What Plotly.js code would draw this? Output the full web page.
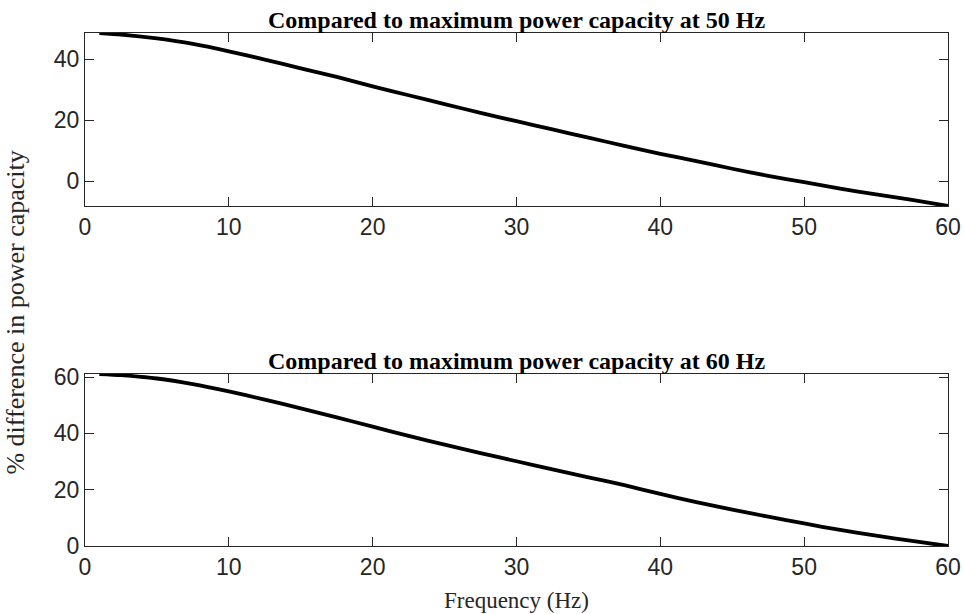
<!DOCTYPE html>
<html>
<head>
<meta charset="utf-8">
<script src="https://cdn.plot.ly/plotly-3.0.1.min.js"></script>
<style>
  html, body { margin: 0; padding: 0; background: #ffffff; }
  #chart { width: 964px; height: 614px; }
</style>
</head>
<body>
<div id="chart"></div>
<script>
// Supply frequency (Hz)
const frequency = [1, 2.5, 5, 7.5, 10, 12.5, 15, 17.5, 20, 22.5, 25, 27.5, 30,
                   32.5, 35, 37.5, 40, 42.5, 45, 47.5, 50, 52.5, 55, 57.5, 60];

// % difference relative to the maximum power capacity at 50 Hz
const diffVs50Hz = [48.6, 48.1, 46.8, 45.0, 42.6, 39.9, 37.0, 34.2, 31.1, 28.2, 25.3, 22.4, 19.7,
                    17.0, 14.3, 11.6, 9.0, 6.6, 4.1, 1.8, -0.3, -2.4, -4.3, -6.1, -8.1];

// % difference relative to the maximum power capacity at 60 Hz
const diffVs60Hz = [61.1, 60.7, 59.5, 57.5, 54.9, 52.0, 48.9, 45.7, 42.4, 39.1, 36.0, 33.0, 30.1,
                    27.2, 24.4, 21.6, 18.5, 15.6, 12.9, 10.4, 8.0, 5.7, 3.7, 1.8, 0.0];

const xTicks = [0, 10, 20, 30, 40, 50, 60];
const yTicksTop = [0, 20, 40];
const yTicksBottom = [0, 20, 40, 60];

const panelTitles = ['Compared to maximum power capacity at 50 Hz',
                     'Compared to maximum power capacity at 60 Hz'];
const xLabel = 'Frequency (Hz)';
const yLabel = '% difference in power capacity';

const axisColor = '#262626';
const tickFont = { family: 'Liberation Sans, Arial, sans-serif', size: 23, color: axisColor };
const serif = 'Liberation Serif, Times New Roman, serif';

function boxAxis(extra) {
  return Object.assign({
    showline: true, linecolor: axisColor, linewidth: 1, mirror: 'ticks',
    ticks: 'inside', ticklen: 9, tickwidth: 1, tickcolor: axisColor,
    showgrid: false, zeroline: false, tickfont: tickFont, fixedrange: true
  }, extra);
}

const lineStyle = { color: '#000000', width: 3.8, shape: 'spline', smoothing: 0.6 };

const traces = [
  { x: frequency, y: diffVs50Hz, xaxis: 'x', yaxis: 'y', mode: 'lines', line: lineStyle, hoverinfo: 'x+y' },
  { x: frequency, y: diffVs60Hz, xaxis: 'x2', yaxis: 'y2', mode: 'lines', line: lineStyle, hoverinfo: 'x+y' }
];

const layout = {
  width: 964, height: 614,
  margin: { l: 85, r: 16, t: 33, b: 68 },
  paper_bgcolor: '#ffffff', plot_bgcolor: '#ffffff',
  showlegend: false,
  xaxis: boxAxis({ domain: [0, 1], range: [0, 60], tickvals: xTicks, anchor: 'y' }),
  yaxis: boxAxis({ domain: [0.6628, 1], range: [-8.1, 48.6], tickvals: yTicksTop, anchor: 'x' }),
  xaxis2: boxAxis({ domain: [0, 1], range: [0, 60], tickvals: xTicks, anchor: 'y2' }),
  yaxis2: boxAxis({ domain: [0, 0.3353], range: [0, 61.1], tickvals: yTicksBottom, anchor: 'x2' }),
  annotations: [
    { text: '<b>' + panelTitles[0] + '</b>', xref: 'paper', yref: 'paper', x: 0.5, y: 1,
      xanchor: 'center', yanchor: 'bottom', yshift: -2, showarrow: false,
      font: { family: serif, size: 24, color: '#000000' } },
    { text: '<b>' + panelTitles[1] + '</b>', xref: 'paper', yref: 'paper', x: 0.5, y: 0.3353,
      xanchor: 'center', yanchor: 'bottom', yshift: -2, showarrow: false,
      font: { family: serif, size: 24, color: '#000000' } },
    { text: xLabel, xref: 'paper', yref: 'paper', x: 0.5, y: 0, yshift: -40,
      xanchor: 'center', yanchor: 'top', showarrow: false,
      font: { family: serif, size: 23, color: axisColor } },
    { text: yLabel, xref: 'paper', yref: 'paper', x: 0, xshift: -69, y: 0.455,
      xanchor: 'center', yanchor: 'middle', textangle: -90, showarrow: false,
      font: { family: serif, size: 26, color: axisColor } }
  ]
};

Plotly.newPlot('chart', traces, layout, { displayModeBar: false, staticPlot: true });
</script>
</body>
</html>
